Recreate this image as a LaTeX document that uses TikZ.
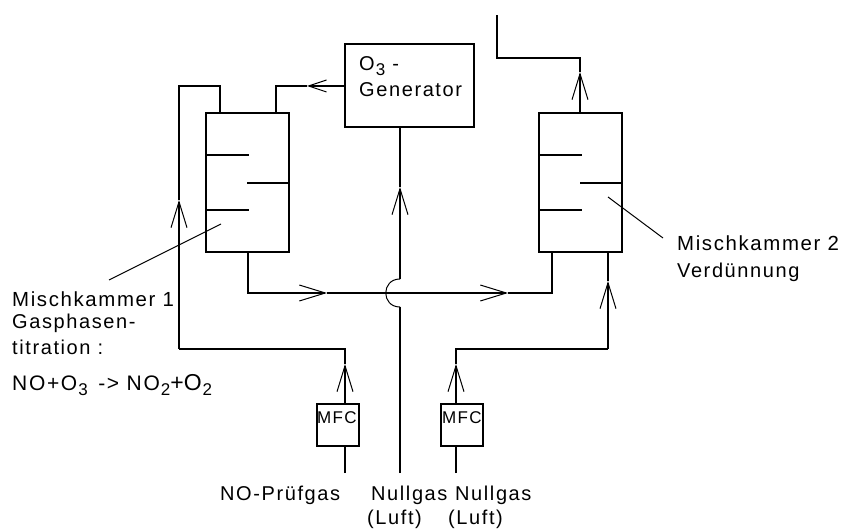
\documentclass[tikz,border=0pt]{standalone}
\usepackage{fontspec}
\setmainfont[LetterSpace=8]{Liberation Sans}
\newfontfamily\plainfont{Liberation Sans}
\usetikzlibrary{arrows.meta,positioning,calc}
\newcommand{\tief}[1]{\raisebox{-5pt}{\fontsize{17}{17}\selectfont #1}}

\begin{document}
\begin{tikzpicture}[
      x=1pt,y=-1pt,
      lbl/.style={anchor=base west,inner sep=0pt,font=\fontsize{20}{24}\selectfont},
      mlbl/.style={lbl,font=\fontsize{20.4}{24}\selectfont},
      slbl/.style={lbl,font=\fontsize{17}{17}\selectfont},
      kammer/.style={draw,line width=2pt,outer sep=0pt,minimum width=83pt,minimum height=139pt},
      mfc/.style={draw,line width=2pt,outer sep=0pt,inner sep=0pt,minimum width=42pt,minimum height=42pt},
      pipe/.style={line width=2pt},
      thin line/.style={line width=1pt},
      arr/.style={pipe,-{Straight Barb[length=26pt,width=16pt,line width=1pt]}},
      arrs/.style={pipe,-{Straight Barb[length=18pt,width=12pt,line width=1pt]}}]
    \useasboundingbox (0,0) rectangle (844,529);
    % chambers and boxes
    \node[kammer] (mk1) at (247.5,182.5) {};
    \node[kammer] (mk2) at (580.5,182.5) {};
    \node[draw,line width=2pt,outer sep=0pt,minimum width=129pt,minimum height=83pt] (gen) at (409.5,85.5) {};
    \node[mfc] (mfc1) at (338,425) {};
    \node[mfc] (mfc2) at (462,425) {};
    \foreach \k in {mk1,mk2} {
      \draw[pipe] ($(\k.north west)+(0,42)$) -- +(43,0);
      \draw[pipe] ($(\k.north east)+(0,70)$) -- +(-42,0);
      \draw[pipe] ($(\k.north west)+(0,97)$) -- +(43,0);
    }
    % junction points
    \coordinate (t1) at (179,200);
    \coordinate (t2) at (307,86);
    \coordinate (t3) at (345,364);
    \coordinate (t4) at (456,364);
    \coordinate (t5) at (400,187);
    \coordinate (t6) at (327,293);
    \coordinate (t7) at (508,293);
    \coordinate (t8) at (580,72);
    \coordinate (t9) at (608,281);
    \coordinate (b1) at (400,279);
    \coordinate (b2) at (400,307);
    \coordinate (c1) at (179,349);
    \coordinate (c2) at (608,349);
    \coordinate (o1) at (497,15);
    % NO line
    \draw[pipe] (345,473) -- (mfc1.south -| t3);
    \draw[arr] (mfc1.north -| t3) -- (t3);
    \draw[pipe] (t3) |- (c1);
    \draw[arr] (c1) -- (t1);
    \draw[pipe] (t1) |- (220,86) -- (220,113);
    % ozone
    \draw[arrs] (gen.west |- t2) -- (t2);
    \draw[pipe] (t2) -| (276,113);
    \draw[pipe] (400,473) -- (b2);
    \draw[thin line] (b2) .. controls (381,307) and (381,279) .. (b1);
    \draw[arr] (b1) -- (t5);
    \draw[pipe] (t5) -- (gen.south -| t5);
    % zero gas
    \draw[pipe] (456,473) -- (mfc2.south -| t4);
    \draw[arr] (mfc2.north -| t4) -- (t4);
    \draw[pipe] (t4) |- (c2);
    \draw[arr] (c2) -- (t9);
    \draw[pipe] (t9) -- (mk2.south -| t9);
    % between the chambers
    \draw[arr] (mk1.south -| 248,0) |- (t6);
    \draw[arr] (t6) -- (t7);
    \draw[pipe] (t7) -| (552,252);
    % outlet
    \draw[arr] (mk2.north -| t8) -- (t8);
    \draw[pipe] (t8) |- (o1 |- 0,58) -- (o1);
    % leaders
    \draw[thin line] (221,224) -- (109,280);
    \draw[thin line] (608,197) -- (663,238);
    % texts
    \node[slbl] (mfcA) at (317,424) {MFC};
    \node[slbl] (mfcB) at (442,424) {MFC};
    \node[lbl] (genA) at (359,70.7) {O\hspace{1pt}\tief{3} -};
    \node[lbl] (genB) at (359,96.7) {Generator};
    \node[mlbl] (misch1) at (12,306.7) {Mischkammer 1};
    \node[lbl] (gasph) at (12,329) {Gasphasen-};
    \node[lbl] (titr) at (12,355) {titration :};
    \node[lbl,font=\fontsize{21}{24}\selectfont] (reakt) at (12,390.7) {NO+O\hspace{1pt}\tief{3}\hspace{3pt} -> NO\hspace{1pt}\tief{2}{\plainfont\fontsize{23}{24}\selectfont +O}\hspace{1pt}\tief{2}};
    \node[mlbl] (misch2) at (677,250.7) {Mischkammer 2};
    \node[lbl] (verd) at (677,278) {Verdünnung};
    \node[lbl] (pruef) at (220,500.7) {NO-Prüfgas};
    \node[lbl] (null1) at (371,500.7) {Nullgas};
    \node[lbl] (null2) at (455,500.7) {Nullgas};
    \node[lbl] (luft1) at (367,524.5) {(Luft)};
    \node[lbl] (luft2) at (448,524.5) {(Luft)};
  \end{tikzpicture}
\end{document}
